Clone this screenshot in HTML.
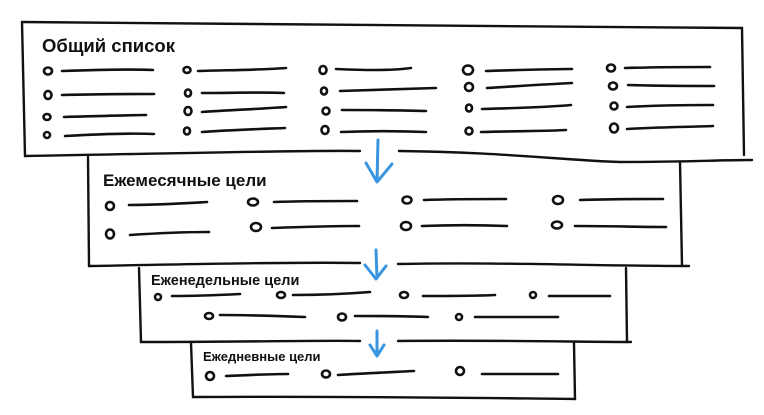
<!DOCTYPE html>
<html><head><meta charset="utf-8"><style>
html,body{margin:0;padding:0;background:#fff;}
svg{display:block;}
text{font-family:"Liberation Sans","DejaVu Sans",sans-serif;font-weight:bold;fill:#111;}
</style></head><body>
<svg width="764" height="415" viewBox="0 0 764 415" xmlns="http://www.w3.org/2000/svg">
<g fill="none" stroke="#111" stroke-width="2.4" stroke-linecap="round">
<path d="M22 22 C200 24 500 26 742 28 L744 155"/>
<path d="M22 22 L25 156 C150 154 300 150 360 151"/>
<path d="M399 151 C500 152 560 160 620 162 C680 162 720 160 752 160"/>
<path d="M88 157 L89 266 C200 264 300 262 360 263"/>
<path d="M398 264 C500 262 600 266 689 266"/>
<path d="M680 162 L682 266"/>
<path d="M139 268 L141 342 C250 342 330 340 360 341"/>
<path d="M398 341 C500 340 580 342 631 342"/>
<path d="M626 268 L627 342"/>
<path d="M191 343 L193 397 C350 396 480 398 575 399 L574 343"/>
</g>
<text x="42" y="52" font-size="18.5">Общий список</text>
<text x="103" y="186" font-size="17">Ежемесячные цели</text>
<text x="151" y="285" font-size="14.5">Еженедельные цели</text>
<text x="203" y="361" font-size="13">Ежедневные цели</text>
<g fill="none" stroke="#111" stroke-width="2.6" stroke-linecap="round">
<ellipse cx="48" cy="71" rx="4" ry="3.5"/><path d="M62 71 C90 70 130 69 153 70"/>
<ellipse cx="48" cy="95" rx="3.5" ry="4"/><path d="M62 95 C100 94 130 94 154 94"/>
<ellipse cx="47" cy="117" rx="3.5" ry="3"/><path d="M64 117 C100 116 130 115 146 115"/>
<ellipse cx="47" cy="135" rx="3" ry="3"/><path d="M65 136 C100 134 130 133 154 134"/>
<ellipse cx="187" cy="70" rx="3.5" ry="3"/><path d="M198 71 C230 70 260 70 286 68"/>
<ellipse cx="188" cy="93" rx="3" ry="3.5"/><path d="M202 93 C230 93 260 92 284 93"/>
<ellipse cx="188" cy="111" rx="3.5" ry="4"/><path d="M202 112 C230 110 260 109 286 107"/>
<ellipse cx="187" cy="131" rx="3" ry="3.5"/><path d="M202 132 C230 130 260 129 285 128"/>
<ellipse cx="323" cy="70" rx="3.5" ry="4"/><path d="M336 69 C360 70 390 71 411 68"/>
<ellipse cx="324" cy="91" rx="3" ry="3.5"/><path d="M340 91 C370 90 400 89 436 88"/>
<ellipse cx="326" cy="111" rx="3.5" ry="3.5"/><path d="M342 110 C370 110 400 110 426 111"/>
<ellipse cx="325" cy="130" rx="3.5" ry="4"/><path d="M341 132 C370 131 400 131 426 132"/>
<ellipse cx="468" cy="70" rx="5" ry="4.5"/><path d="M486 71 C520 70 550 69 572 69"/>
<ellipse cx="469" cy="87" rx="4" ry="4"/><path d="M487 88 C520 86 550 84 572 83"/>
<ellipse cx="469" cy="108" rx="3" ry="3.5"/><path d="M482 109 C520 108 550 107 571 105"/>
<ellipse cx="469" cy="131" rx="3.5" ry="3.5"/><path d="M481 132 C520 131 550 131 566 130"/>
<ellipse cx="611" cy="68" rx="4" ry="3.5"/><path d="M625 68 C660 67 690 67 710 67"/>
<ellipse cx="613" cy="86" rx="4" ry="3.5"/><path d="M628 85 C660 86 690 86 714 86"/>
<ellipse cx="614" cy="106" rx="3.5" ry="3.5"/><path d="M627 107 C660 105 690 105 713 105"/>
<ellipse cx="614" cy="128" rx="4" ry="4.5"/><path d="M627 129 C660 127 690 127 713 126"/>
<ellipse cx="110" cy="206" rx="4" ry="4"/><path d="M129 205 C160 205 190 203 207 202"/>
<ellipse cx="110" cy="234" rx="4" ry="4.5"/><path d="M130 235 C160 233 190 232 209 232"/>
<ellipse cx="253" cy="202" rx="5" ry="3.5"/><path d="M274 202 C300 201 330 201 357 201"/>
<ellipse cx="256" cy="227" rx="5" ry="4"/><path d="M272 228 C300 227 330 226 359 226"/>
<ellipse cx="407" cy="200" rx="4.5" ry="3.5"/><path d="M424 200 C450 199 480 199 506 199"/>
<ellipse cx="406" cy="226" rx="5" ry="4"/><path d="M422 226 C450 225 480 225 507 226"/>
<ellipse cx="558" cy="200" rx="5" ry="4"/><path d="M580 200 C610 199 640 199 663 199"/>
<ellipse cx="557" cy="225" rx="5" ry="3.5"/><path d="M575 226 C610 226 640 227 666 227"/>
<ellipse cx="158" cy="297" rx="3" ry="3"/><path d="M172 296 C200 296 220 295 240 294"/>
<ellipse cx="281" cy="295" rx="4" ry="3"/><path d="M293 295 C320 295 345 294 370 292"/>
<ellipse cx="404" cy="295" rx="4" ry="3"/><path d="M423 296 C450 296 475 296 495 295"/>
<ellipse cx="533" cy="295" rx="3" ry="3"/><path d="M549 296 C570 296 590 296 610 296"/>
<ellipse cx="209" cy="316" rx="4" ry="3"/><path d="M220 315 C250 315 280 316 305 317"/>
<ellipse cx="342" cy="317" rx="4" ry="3.5"/><path d="M355 316 C380 316 405 316 428 317"/>
<ellipse cx="459" cy="317" rx="3" ry="3"/><path d="M475 317 C500 317 530 317 558 317"/>
<ellipse cx="210" cy="376" rx="4" ry="4"/><path d="M226 376 C250 375 270 374 288 374"/>
<ellipse cx="326" cy="374" rx="4" ry="3.5"/><path d="M338 375 C370 373 395 372 414 371"/>
<ellipse cx="460" cy="371" rx="4" ry="4"/><path d="M482 374 C510 374 535 374 558 374"/>
</g>
<g fill="none" stroke="#3a95e0" stroke-width="3" stroke-linecap="round" stroke-linejoin="round">
<path d="M378 140 L377 181"/><path d="M366 163 L377 182 L392 164"/>
<path d="M376 250 L377 278"/><path d="M365 265 L376 279 L386 266"/>
<path d="M377 331 L377 355"/><path d="M370 345 L377 356 L384 345"/>
</g>
</svg>
</body></html>
